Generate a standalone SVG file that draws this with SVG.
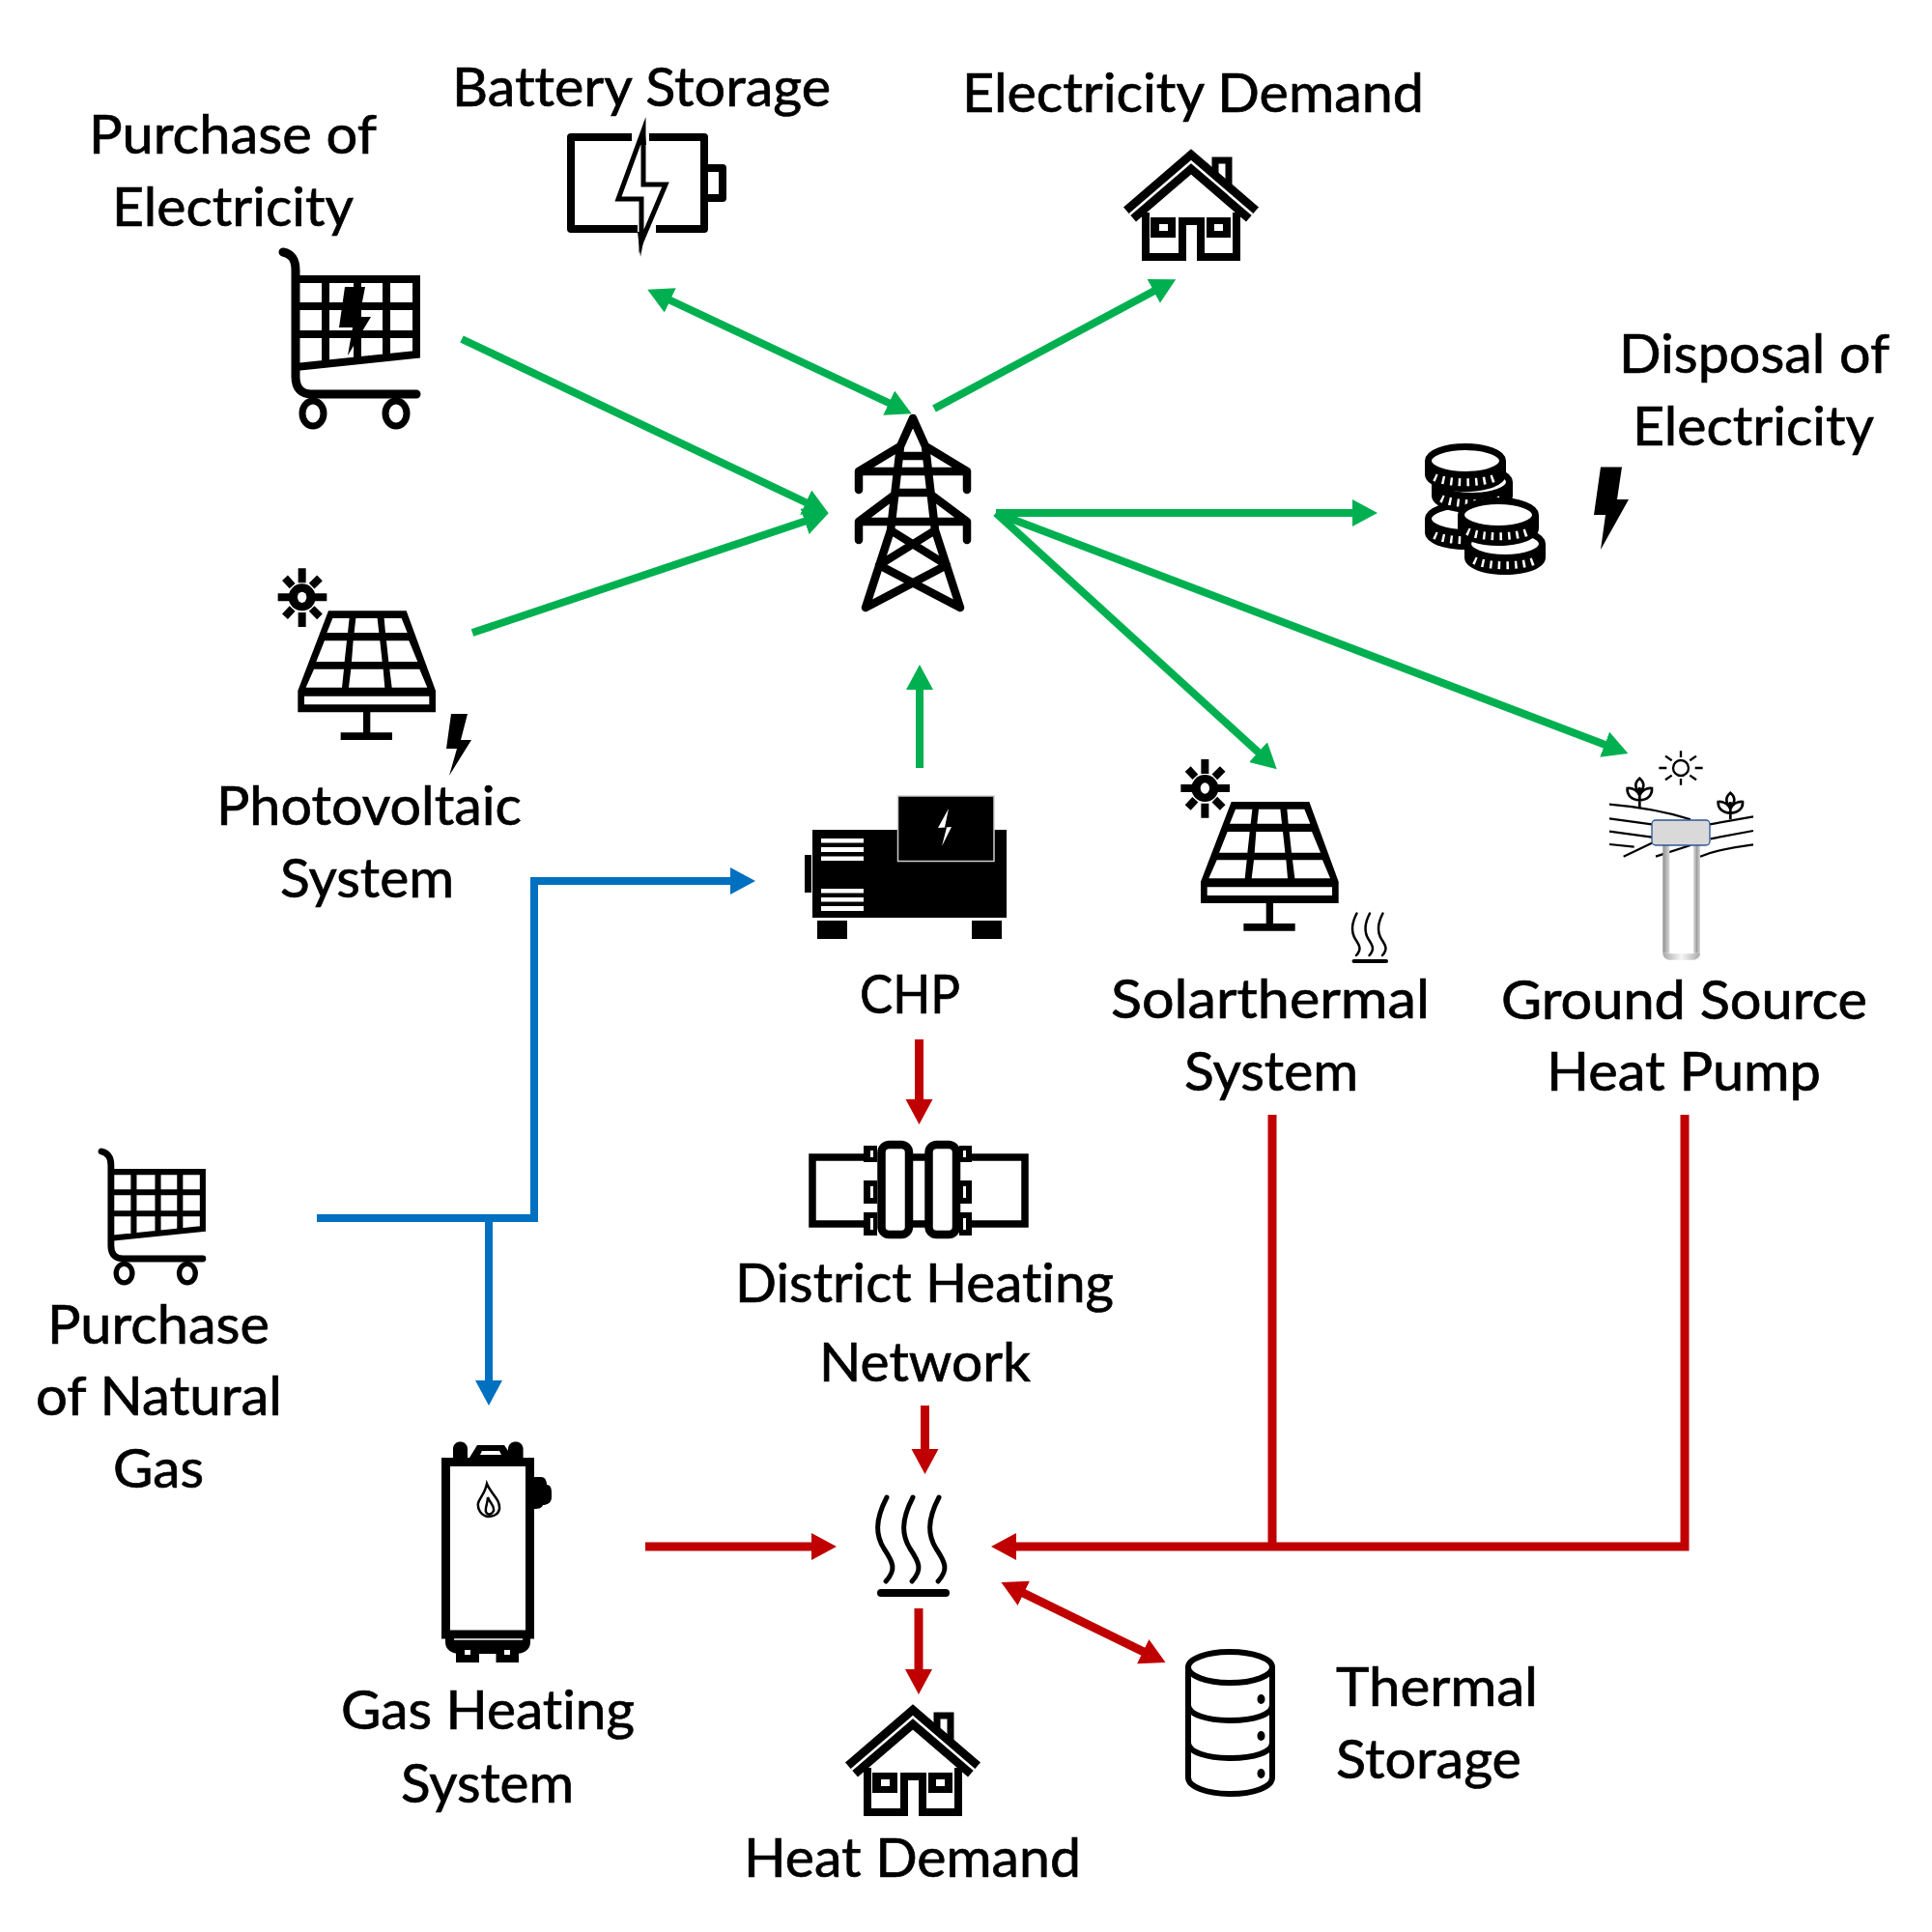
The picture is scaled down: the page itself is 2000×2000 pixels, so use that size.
<svg xmlns="http://www.w3.org/2000/svg" xmlns:xlink="http://www.w3.org/1999/xlink" width="2000" height="2000" viewBox="0 0 2000 2000">
<style>
text{font-family:"Lato","Open Sans","Liberation Sans",sans-serif;font-size:56px;fill:#000;stroke:#000;stroke-width:.7px;font-variant-ligatures:none}
.g{stroke:#00b050;stroke-width:8;fill:none}
.r{stroke:#c00000;stroke-width:9;fill:none}
.b{stroke:#0070c0;stroke-width:8;fill:none}
.k{fill:#000}
.w{fill:#fff}
.s{fill:none;stroke:#000}
</style>
<defs>
<marker id="ag" markerUnits="userSpaceOnUse" markerWidth="30" markerHeight="30" refX="2" refY="14" orient="auto-start-reverse"><path d="M0,0L26,14L0,28Z" fill="#00b050"/></marker>
<marker id="ar" markerUnits="userSpaceOnUse" markerWidth="30" markerHeight="30" refX="2" refY="14" orient="auto-start-reverse"><path d="M0,0L26,14L0,28Z" fill="#c00000"/></marker>
<marker id="ab" markerUnits="userSpaceOnUse" markerWidth="30" markerHeight="30" refX="2" refY="14" orient="auto-start-reverse"><path d="M0,0L26,14L0,28Z" fill="#0070c0"/></marker>
<linearGradient id="gl"><stop offset="0" stop-color="#8f8f8f"/><stop offset="1" stop-color="#d8d8d8"/></linearGradient>
<linearGradient id="gr"><stop offset="0" stop-color="#e0e0e0"/><stop offset=".5" stop-color="#9f9f9f"/><stop offset="1" stop-color="#d8d8d8"/></linearGradient>
<linearGradient id="gb"><stop offset="0" stop-color="#a8a8a8"/><stop offset=".5" stop-color="#f6f6f6"/><stop offset="1" stop-color="#a8a8a8"/></linearGradient>
<g id="cart-base">
<path class="s" stroke-width="9" stroke-linecap="round" d="M293,261C303,263 306,270 306,280V390C306,403 313,408 322,408H431"/>
<path class="s" stroke-width="8" d="M306,289H431V367L306,380M337,289V376M370,289V372M400,289V369M306,317H431M306,346H431"/>
<ellipse class="w" cx="324" cy="428" rx="11" ry="13" stroke="#000" stroke-width="7"/>
<ellipse class="w" cx="410" cy="428" rx="11" ry="13" stroke="#000" stroke-width="7"/>
</g>
<g id="solar-panel">
<circle class="k" cx="188" cy="175" r="42"/><ellipse class="w" cx="188" cy="175" rx="14" ry="17"/>
<path class="s" stroke-width="24" d="M188,85V130M188,222V267M113,175H150M228,175H265M135,115L158,140M243,115L218,140M135,235L158,210M243,235L218,210"/>
<path class="k" d="M270,217H512L603,465V532H400V595H468V618H308V595H378V532H175V465Z"/>
<path class="w" d="M195,482H583V508H195ZM283,240H335L330,285H265ZM355,240H422L427,285H350ZM443,240H497L515,285H447ZM258,310H327L320,375H232ZM347,310H430L437,375H342ZM450,310H520L547,375H457ZM225,398H318L312,455H200ZM340,398H440L445,455H333ZM460,398H553L577,455H467Z"/>
</g>
<g id="house">
<path class="s" stroke-width="7" d="M1258,181V166H1272V194"/>
<path class="s" stroke-width="20" stroke-miterlimit="10" d="M1169.5,222L1233,167.5L1296.5,222"/>
<path d="M1169.5,222L1233,167.5L1296.5,222" fill="none" stroke="#fff" stroke-width="2.5"/>
<path class="s" stroke-width="8" d="M1186,220V266H1224V229H1243V266H1280V220"/>
<path class="k" d="M1191,225H1217V246H1191ZM1249,225H1274V246H1249Z"/>
<path class="w" d="M1200,232H1209V239H1200ZM1257,232H1266V239H1257Z"/>
</g>
<g id="coin">
<path class="k" d="M-42,0V14C-42,25 -23,32 0,32C23,32 42,25 42,14V0Z"/>
<ellipse class="w" cx="0" cy="0" rx="38.5" ry="14.5" stroke="#000" stroke-width="7"/>
<path d="M-32,17C-18,24 18,24 32,17" fill="none" stroke="#fff" stroke-width="8" stroke-dasharray="2.5 6"/>
</g>
<g id="steam">
<path class="s" stroke-width="5" stroke-linecap="round" d="M918,1550C905,1575 907,1590 915,1603C925,1618 928,1625 917,1637M945,1550C932,1575 934,1590 942,1603C952,1618 955,1625 944,1637M972,1550C959,1575 961,1590 969,1603C979,1618 982,1625 971,1637"/>
<path class="s" stroke-width="8" stroke-linecap="round" d="M912,1649H979"/>
</g>
</defs>

<g id="connectors" stroke-linejoin="miter">
<path class="g" marker-end="url(#ag)" d="M478,351L836,521"/>
<path class="g" marker-end="url(#ag)" d="M489,655L835,539"/>
<path class="g" marker-start="url(#ag)" marker-end="url(#ag)" d="M692,310L922,418"/>
<path class="g" marker-end="url(#ag)" d="M967,423L1196,300.5"/>
<path class="g" marker-end="url(#ag)" d="M1031,531H1402"/>
<path class="g" marker-end="url(#ag)" d="M1031,531L1304,780"/>
<path class="g" marker-end="url(#ag)" d="M1031,531L1663,771.5"/>
<path class="g" marker-end="url(#ag)" d="M952,795V712"/>
<path class="r" marker-end="url(#ar)" d="M951.5,1076V1140"/>
<path class="r" marker-end="url(#ar)" d="M957.5,1455V1502"/>
<path class="r" marker-end="url(#ar)" d="M668,1601H842"/>
<path class="r" d="M1317,1154V1601"/>
<path class="r" marker-end="url(#ar)" d="M1744,1154V1601H1050"/>
<path class="r" marker-end="url(#ar)" d="M951,1665V1730"/>
<path class="r" marker-start="url(#ar)" marker-end="url(#ar)" d="M1058,1648.5L1185,1710.5"/>
<path class="b" marker-end="url(#ab)" d="M328,1261H553V912H758"/>
<path class="b" marker-end="url(#ab)" d="M506,1261V1431"/>
</g>

<g id="purchase-electricity">
<use href="#cart-base" xlink:href="#cart-base"/>
<path class="k" d="M357,297H378L372,328H384L360,368L365,339H351Z"/>
<text x="92" y="159" textLength="298" lengthAdjust="spacingAndGlyphs">Purchase of</text>
<text x="116" y="234" textLength="250" lengthAdjust="spacingAndGlyphs">Electricity</text>
</g>
<g id="battery-storage">
<path class="s" stroke-width="8" stroke-linejoin="round" d="M654,142H591V237H660M679,237H729V142H672M729,174H748V205H729"/>
<path d="M666,135L640,206H664L664,250L689,191H666Z" fill="#fff" stroke="#000" stroke-width="5" stroke-miterlimit="6"/>
<path class="k" d="M666.5,125L663,150L669,150ZM663,266L660,240L668,240Z"/>
<text x="468" y="110" textLength="392" lengthAdjust="spacingAndGlyphs">Battery Storage</text>
</g>
<g id="electricity-demand">
<use href="#house" xlink:href="#house"/>
<text x="996" y="116" textLength="478" lengthAdjust="spacingAndGlyphs">Electricity Demand</text>
</g>
<g id="disposal-electricity">
<use href="#coin" xlink:href="#coin" x="1517" y="537"/>
<use href="#coin" xlink:href="#coin" x="1524" y="499"/>
<use href="#coin" xlink:href="#coin" x="1517" y="477"/>
<use href="#coin" xlink:href="#coin" x="1558" y="563"/>
<use href="#coin" xlink:href="#coin" x="1551" y="533"/>
<path class="k" d="M1657,483.5H1679L1674,517H1686L1657,569L1662,533H1650Z"/>
<text x="1676" y="386" textLength="280" lengthAdjust="spacingAndGlyphs">Disposal of</text>
<text x="1690" y="461" textLength="250" lengthAdjust="spacingAndGlyphs">Electricity</text>
</g>
<g id="grid-tower">
<path class="s" stroke-width="8.5" stroke-linejoin="round" stroke-linecap="round" d="M932,462L945,433L958,462M932,462L922,549L896,629L980,585L922,549M958,462L968,549L994,629L910,585L968,549M889,507V488H1001V507M889,559V540H1001V559M889,488L932,462M1001,488L958,462M889,540L929,510M1001,540L961,510M929,510H961M932,472H958"/>
</g>
<g id="photovoltaic">
<use href="#solar-panel" xlink:href="#solar-panel" transform="translate(250,560) scale(.3333)"/>
<path class="k" d="M467,739H484L477,766H488L465,803L473,775H462Z"/>
<text x="224" y="854" textLength="316" lengthAdjust="spacingAndGlyphs">Photovoltaic</text>
<text x="290" y="929" textLength="180" lengthAdjust="spacingAndGlyphs">System</text>
</g>
<g id="chp">
<path class="k" d="M841,859H1042V950H841ZM833,885H840V924H833ZM846,953H877V972H846ZM1006,953H1037V972H1006Z"/>
<rect x="929.5" y="824" width="99.5" height="67.5" fill="#000" stroke="#ccc" stroke-width="1.5"/>
<path class="w" d="M850,868H894V872.5H850ZM850,877H894V882H850ZM850,886.5H894V891H850ZM850,920H894V924.5H850ZM850,929H894V933.5H850ZM850,938H894V943H850ZM982,837L971,857L980,856.5L975,876L985,856L978,856.5Z"/>
<text x="890" y="1049" textLength="104" lengthAdjust="spacingAndGlyphs">CHP</text>
</g>
<g id="solarthermal">
<use href="#solar-panel" xlink:href="#solar-panel" transform="translate(1184.7,757.7) scale(.3333)"/>
<use href="#steam" xlink:href="#steam" transform="translate(1400,945) scale(.5) translate(-909,-1549)"/>
<text x="1150" y="1054" textLength="330" lengthAdjust="spacingAndGlyphs">Solarthermal</text>
<text x="1226" y="1129" textLength="180" lengthAdjust="spacingAndGlyphs">System</text>
</g>
<g id="ground-source-heat-pump">
<g transform="translate(1640,760) scale(.3333)">
<circle cx="300" cy="105" r="24" fill="none" stroke="#000" stroke-width="7"/>
<path class="s" stroke-width="7" d="M300,52V72M300,138V158M232,105H256M344,105H368M252,68L272,82M348,68L328,82M252,142L272,128M348,142L328,128"/>
<path class="s" stroke-width="6.5" d="M78,218C150,224 240,236 330,265M78,262L210,280M78,302L210,320M78,342L155,350M122,380L210,338M222,380L330,345M390,280L525,256M392,325L525,300M360,380C410,360 470,350 525,343"/>
<path class="s" stroke-width="8" d="M172,228V165M172,137C156,150 156,170 172,178C188,170 188,150 172,137ZM172,205C148,205 132,190 134,168C150,166 165,175 172,190C179,175 194,166 210,168C212,190 196,205 172,205Z"/>
<path class="s" stroke-width="8" d="M454,265V210M454,182C438,195 438,215 454,223C470,215 470,195 454,182ZM454,245C430,245 414,230 416,210C432,208 447,217 454,232C461,217 476,208 492,210C494,230 478,245 454,245Z"/>
<rect x="244" y="345" width="21" height="335" fill="url(#gl)"/>
<rect x="339" y="345" width="21" height="335" fill="url(#gr)"/>
<path d="M244,680H265C265,682 266,682 270,682H334C338,682 339,682 339,680H360C360,692 350,701 338,701H266C254,701 244,692 244,680Z" fill="url(#gb)"/>
<rect x="210" y="267" width="180" height="78" rx="12" fill="#d9d9d9" stroke="#2f5597" stroke-width="4"/>
</g>
<text x="1554" y="1055" textLength="379" lengthAdjust="spacingAndGlyphs">Ground Source</text>
<text x="1601" y="1129" textLength="284" lengthAdjust="spacingAndGlyphs">Heat Pump</text>
</g>
<g id="district-heating">
<path class="s" stroke-width="7.5" d="M897,1198H841V1267H897M1005,1198H1061V1267H1005M945,1198H958M945,1267H958"/>
<rect x="912.5" y="1185" width="28.5" height="93" rx="8" fill="#fff" stroke="#000" stroke-width="8.5"/>
<rect x="961.5" y="1185" width="28.5" height="93" rx="8" fill="#fff" stroke="#000" stroke-width="8.5"/>
<path class="k" d="M894,1186H908V1203H894ZM894,1222H908V1246H894ZM894,1255H908V1279H894ZM993,1186H1006V1203H993ZM993,1222H1006V1246H993ZM993,1255H1006V1279H993Z"/>
<path class="w" d="M901,1191H904V1198H901ZM901,1228H904V1240H901ZM901,1261H904V1273H901ZM997,1191H1000V1198H997ZM997,1228H1000V1240H997ZM997,1261H1000V1273H997Z"/>
<text x="761" y="1348" textLength="392" lengthAdjust="spacingAndGlyphs">District Heating</text>
<text x="848" y="1430" textLength="219" lengthAdjust="spacingAndGlyphs">Network</text>
</g>
<g id="purchase-natural-gas">
<use href="#cart-base" xlink:href="#cart-base" transform="translate(105,1192) scale(.76,.755) translate(-293,-261)"/>
<text x="49" y="1391" textLength="230" lengthAdjust="spacingAndGlyphs">Purchase</text>
<text x="37" y="1465" textLength="255" lengthAdjust="spacingAndGlyphs">of Natural</text>
<text x="117" y="1540" textLength="94" lengthAdjust="spacingAndGlyphs">Gas</text>
</g>
<g id="gas-heating">
<path class="k" d="M469,1509V1500C469,1490 484,1490 484,1500V1509ZM526,1509V1500C526,1490 541.6,1490 541.6,1500V1509ZM486,1509L494,1496H522L531,1509ZM553,1529H560C565,1529 566,1534 566,1537C570,1537 571,1541 571,1545V1550C571,1556 566,1558 562,1558C561,1561 558,1562 553,1562ZM472,1708H496V1721H472ZM513.5,1708H537V1721H513.5Z"/>
<path class="s" stroke-width="9" d="M461.5,1513.5H548.5V1692H461.5Z"/>
<path class="k" d="M461,1692H549V1700C549,1708 542,1712 534,1712H476C468,1712 461,1708 461,1700Z"/>
<path d="M470,1697H541" stroke="#fff" stroke-width="1.5"/>
<path class="w" d="M481,1708H487V1713H481ZM522,1708H528V1713H522ZM497,1506L499,1502H517L519,1506Z"/>
<path class="s" stroke-width="2.5" d="M504,1536C508,1546 518,1552 517,1562C516,1568 510,1570 505,1570C498,1569 494,1562 495,1556C497,1550 502,1546 504,1536ZM505,1550C507,1556 512,1558 511,1564C509,1568 505,1569 503,1565C502,1560 505,1556 505,1550Z"/>
<text x="353" y="1790" textLength="304" lengthAdjust="spacingAndGlyphs">Gas Heating</text>
<text x="415" y="1866" textLength="179" lengthAdjust="spacingAndGlyphs">System</text>
</g>
<g id="heat-node">
<use href="#steam" xlink:href="#steam"/>
</g>
<g id="heat-demand">
<use href="#house" xlink:href="#house" transform="translate(-288,1610)"/>
<text x="770" y="1943" textLength="349" lengthAdjust="spacingAndGlyphs">Heat Demand</text>
</g>
<g id="thermal-storage">
<path class="s" stroke-width="6" d="M1230,1726V1840C1230,1850 1250,1857 1274,1857C1298,1857 1317,1850 1317,1840V1726"/>
<ellipse cx="1273.5" cy="1726" rx="43.5" ry="16" fill="none" stroke="#000" stroke-width="6"/>
<path class="s" stroke-width="6" d="M1230,1765C1230,1775 1250,1781 1274,1781C1298,1781 1317,1775 1317,1765M1230,1804C1230,1814 1250,1820 1274,1820C1298,1820 1317,1814 1317,1804"/>
<ellipse class="k" cx="1305.5" cy="1759" rx="4" ry="5"/>
<ellipse class="k" cx="1305.5" cy="1797" rx="4" ry="5"/>
<ellipse class="k" cx="1305.5" cy="1836" rx="4" ry="5"/>
<text x="1383" y="1766" textLength="209" lengthAdjust="spacingAndGlyphs">Thermal</text>
<text x="1383" y="1841" textLength="192" lengthAdjust="spacingAndGlyphs">Storage</text>
</g>
</svg>
